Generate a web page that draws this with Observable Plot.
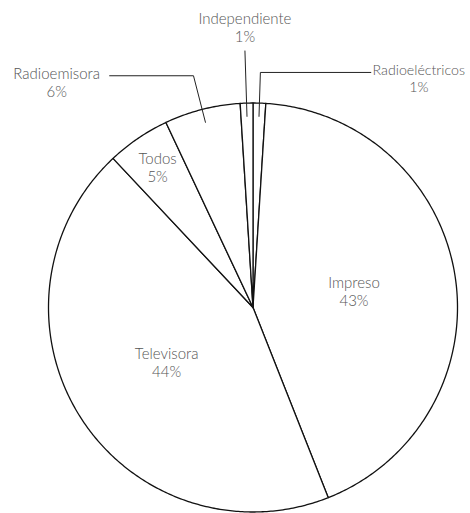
<!DOCTYPE html>
<html>
<head>
<meta charset="utf-8">
<script src="https://cdn.jsdelivr.net/npm/d3@7"></script>
<script src="https://cdn.jsdelivr.net/npm/@observablehq/plot@0.6"></script>
<style>
  html, body { margin: 0; padding: 0; background: #fff; }
  #chart svg { display: block; }
</style>
</head>
<body>
<div id="chart"></div>
<script>
// Share by medium, clockwise from 12 o'clock
const categories = ["Radioeléctricos", "Impreso", "Televisora", "Todos", "Radioemisora", "Independiente"];
const shares = [1, 43, 44, 5, 6, 1];

// Labels sit inside large slices, near the rim for mid-size ones,
// and outside with a leader line for the thinnest ones.
const outsideLabels = ["Radioeléctricos", "Radioemisora", "Independiente"];

const slices = d3.pie().sort(null).value(d => d.share)(
  categories.map((name, i) => ({name, share: shares[i]}))
).map(a => ({
  name: a.data.name,
  share: a.data.share,
  start: a.startAngle,
  end: a.endAngle,
  mid: (a.startAngle + a.endAngle) / 2
}));

// polar -> unit-circle coordinates (angle clockwise from top)
const px = (a, r) => r * Math.sin(a);
const py = (a, r) => r * Math.cos(a);

// Slice outlines: centre -> arc -> centre
const outline = slices.flatMap(s => {
  const n = Math.max(4, Math.ceil((s.end - s.start) / 0.01));
  const pts = [{name: s.name, x: 0, y: 0}];
  for (let k = 0; k <= n; k++) {
    const a = s.start + (s.end - s.start) * k / n;
    pts.push({name: s.name, x: px(a, 1), y: py(a, 1)});
  }
  pts.push({name: s.name, x: 0, y: 0});
  return pts;
});

// Inside labels
const inside = slices.filter(s => !outsideLabels.includes(s.name)).map(s => {
  const r = s.share >= 10 ? 0.5 : 0.83;
  return {text: `${s.name}\n${s.share}%`, x: px(s.mid, r), y: py(s.mid, r)};
});

// Leader lines for outside labels
const bend = {"Radioeléctricos": 1.15, "Radioemisora": 1.17, "Independiente": 1.255};
const tail = {"Radioeléctricos": 0.54, "Radioemisora": -0.41, "Independiente": 0};
const leaders = slices.filter(s => outsideLabels.includes(s.name)).flatMap(s => {
  const r0 = 0.935, r1 = bend[s.name];
  const pts = [
    {name: s.name, x: px(s.mid, r0), y: py(s.mid, r0)},
    {name: s.name, x: px(s.mid, r1), y: py(s.mid, r1)}
  ];
  if (tail[s.name] !== 0) {
    pts.push({name: s.name, x: px(s.mid, r1) + tail[s.name], y: py(s.mid, r1)});
  }
  return pts;
});

const outside = slices.filter(s => outsideLabels.includes(s.name)).map(s => {
  const r1 = bend[s.name];
  return {
    name: s.name,
    text: `${s.name}\n${s.share}%`,
    x: px(s.mid, r1) + tail[s.name],
    y: py(s.mid, r1)
  };
});

const textStyle = {
  fontFamily: "Lato, 'Open Sans', sans-serif",
  fontSize: 15,
  fontWeight: 300,
  fill: "#555",
  lineHeight: 1.17
};

const chart = Plot.plot({
  width: 470,
  height: 513,
  margin: 0,
  x: {domain: [-1, 1], range: [48, 457], axis: null},
  y: {domain: [-1, 1], range: [511.5, 102.5], axis: null},
  marks: [
    Plot.line(outline, {x: "x", y: "y", z: "name", fill: "white", stroke: "#111", strokeWidth: 1.3, strokeLinejoin: "round", curve: "linear"}),
    Plot.line(leaders, {x: "x", y: "y", z: "name", stroke: "#222", strokeWidth: 1}),
    Plot.text(inside, {x: "x", y: "y", text: "text", ...textStyle}),
    Plot.text(outside.filter(d => d.name === "Independiente"), {x: "x", y: "y", text: "text", textAnchor: "middle", lineAnchor: "bottom", dy: -9, ...textStyle}),
    Plot.text(outside.filter(d => d.name === "Radioeléctricos"), {x: "x", y: "y", text: "text", lineAnchor: "top", textAnchor: "middle", dx: 48, dy: -9, ...textStyle, fontSize: 14.2}),
    Plot.text(outside.filter(d => d.name === "Radioemisora"), {x: "x", y: "y", text: "text", lineAnchor: "top", textAnchor: "middle", dx: -53, dy: -9, ...textStyle})
  ]
});

document.getElementById("chart").appendChild(chart);
</script>
</body>
</html>
